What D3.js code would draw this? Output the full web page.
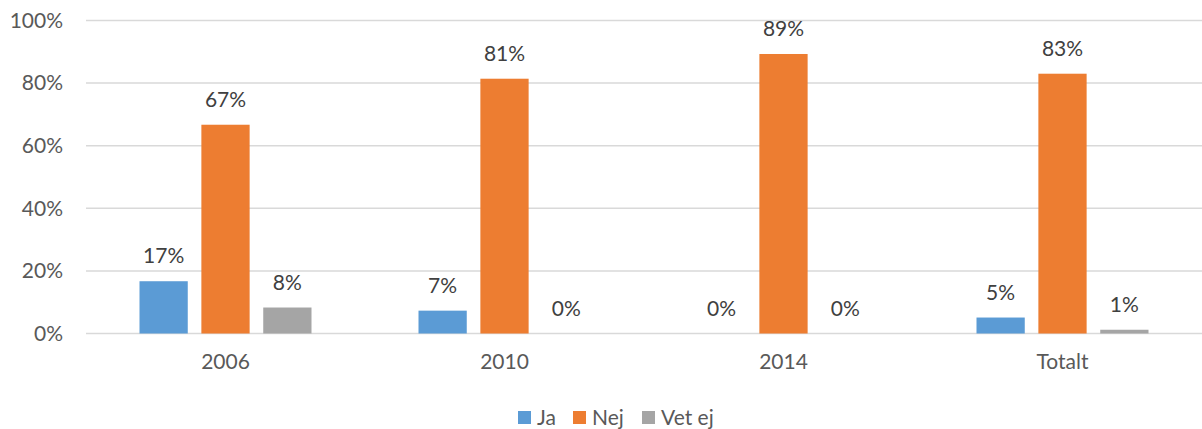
<!DOCTYPE html>
<html>
<head>
<meta charset="utf-8">
<script src="https://cdn.jsdelivr.net/npm/d3@7"></script>
<style>
  body { margin: 0; background: #fff; }
  text { font-family: Lato, "Open Sans", sans-serif; }
</style>
</head>
<body>
<svg id="chart" width="1202" height="429"></svg>
<script>
// categories and series
var categories = ["2006", "2010", "2014", "Totalt"];
var seriesNames = ["Ja", "Nej", "Vet ej"];
var ja = [16.7, 7.3, 0, 5.1];
var nej = [66.7, 81.4, 89.3, 83.0];
var vetEj = [8.3, 0, 0, 1.2];
var labelsJa = ["17%", "7%", "0%", "5%"];
var labelsNej = ["67%", "81%", "89%", "83%"];
var labelsVetEj = ["8%", "0%", "0%", "1%"];
var yTicks = [0, 20, 40, 60, 80, 100];

var colors = ["#5B9BD5", "#ED7D31", "#A5A5A5"];

var data = [];
categories.forEach(function(c, i) {
  data.push({cat: c, key: "Ja", v: ja[i], label: labelsJa[i]});
  data.push({cat: c, key: "Nej", v: nej[i], label: labelsNej[i]});
  data.push({cat: c, key: "Vet ej", v: vetEj[i], label: labelsVetEj[i]});
});

const svg = d3.select("#chart");
const fs = "21px";

const x0 = d3.scaleBand().domain(categories).range([86, 1202]);
const x1 = d3.scaleBand().domain(seriesNames)
             .range([x0.bandwidth()/2 - 86, x0.bandwidth()/2 + 86])
             .paddingInner(0.22);
const y = d3.scaleLinear().domain([0, 100]).range([333.5, 20.5]);
const color = d3.scaleOrdinal().domain(seriesNames).range(colors);

// gridlines
svg.append("g")
   .selectAll("line")
   .data(yTicks)
   .enter()
   .append("line")
   .attr("x1", 86)
   .attr("x2", 1202)
   .attr("y1", d => y(d))
   .attr("y2", d => y(d))
   .attr("stroke", "#D9D9D9")
   .attr("stroke-width", 1.5);

// y axis labels
const yAxis = d3.axisLeft(y).tickValues(yTicks).tickFormat(d => d + "%").tickSize(0).tickPadding(0);
const yg = svg.append("g")
   .attr("transform", "translate(63,0)")
   .call(yAxis);
yg.select(".domain").remove();
yg.selectAll("text")
  .attr("fill", "#595959")
  .style("font-size", fs)
  .attr("font-family", null);

// x axis labels
const xAxis = d3.axisBottom(x0).tickSize(0).tickPadding(0);
const xg = svg.append("g")
   .attr("transform", "translate(0,354)")
   .call(xAxis);
xg.select(".domain").remove();
xg.selectAll("text")
  .attr("fill", "#595959")
  .style("font-size", fs)
  .attr("font-family", null);

// bars
svg.append("g")
   .selectAll("rect")
   .data(data)
   .enter()
   .append("rect")
   .attr("x", d => x0(d.cat) + x1(d.key))
   .attr("y", d => y(d.v))
   .attr("width", x1.bandwidth())
   .attr("height", d => y(0) - y(d.v))
   .attr("fill", d => color(d.key));

// data labels
svg.append("g")
   .selectAll("text")
   .data(data)
   .enter()
   .append("text")
   .attr("x", d => x0(d.cat) + x1(d.key) + x1.bandwidth()/2)
   .attr("y", d => y(d.v) - 18)
   .attr("text-anchor", "middle")
   .attr("fill", "#404040")
   .style("font-size", fs)
   .text(d => d.label);

// legend
const legendX = [518, 573, 642];
const legend = svg.append("g")
   .selectAll("g")
   .data(seriesNames)
   .enter()
   .append("g")
   .attr("transform", (d, i) => "translate(" + legendX[i] + ",411)");
legend.append("rect")
   .attr("width", 13)
   .attr("height", 13)
   .attr("fill", d => color(d));
legend.append("text")
   .attr("x", 19)
   .attr("y", 14)
   .attr("fill", "#595959")
   .style("font-size", fs)
   .text(d => d);
</script>
</body>
</html>
